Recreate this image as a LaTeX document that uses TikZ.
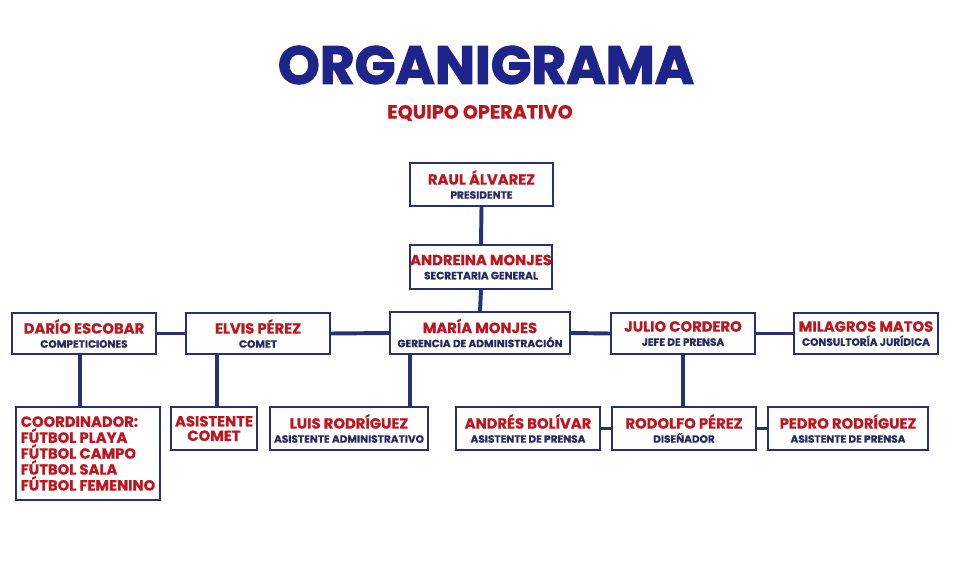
\documentclass[tikz,border=0pt]{standalone}
\usepackage{fontspec}
\setmainfont{Poppins}[BoldFeatures={FakeBold=0.7}]
\newfontfamily\titlefont{Poppins}[BoldFeatures={FakeBold=2.2}]
\usetikzlibrary{positioning}
\definecolor{navy}{RGB}{30,36,138}
\definecolor{boxline}{RGB}{40,48,120}
\definecolor{namered}{RGB}{190,22,30}
\definecolor{rolenavy}{RGB}{38,42,100}
\newcommand{\namefont}{\fontsize{10.5}{10.3}\selectfont\bfseries\color{namered}}
\newcommand{\rolefont}{\fontsize{7.5}{10}\selectfont\bfseries\color{rolenavy}}

\begin{document}
\begin{tikzpicture}[
  x=0.025cm,y=-0.025cm,
  card/.style={rectangle,draw=boxline,line width=1.3pt,fill=white,
               inner sep=0pt,minimum width=3.6cm,minimum height=1.075cm,
               align=center,font=\rolefont},
  link/.style={draw=boxline,line width=2.8pt}
]
\useasboundingbox (0,0) rectangle (959,564);

\node[inner sep=0pt,font=\titlefont\fontsize{38}{40}\selectfont\bfseries,text=navy] (title) at (486,65) {ORGANIGRAMA};
\node[inner sep=0pt,font=\fontsize{13.6}{15}\selectfont\bfseries,text=namered] (subtitle) at (480,113) {EQUIPO OPERATIVO};

\node[card,minimum width=3.575cm] (raul) at (481.5,184.5) {{\namefont RAUL ÁLVAREZ}\\PRESIDENTE};
\node[card,minimum width=3.55cm,minimum height=1.1cm] (andreina) at (481,267) {{\namefont ANDREINA MONJES}\\SECRETARIA GENERAL};
\node[card,minimum width=4.5cm,minimum height=1.05cm] (maria) at (480,333) {{\namefont MARÍA MONJES}\\GERENCIA DE ADMINISTRACIÓN};

\node[card,minimum height=1.025cm] (dario) at (84,333.5) {{\namefont DARÍO ESCOBAR}\\COMPETICIONES};
\node[card,minimum height=1.025cm] (elvis) at (258,333.5) {{\namefont ELVIS PÉREZ}\\COMET};
\node[card,minimum height=1.025cm] (julio) at (683,333.5) {{\namefont JULIO CORDERO}\\JEFE DE PRENSA};
\node[card,minimum height=1.025cm] (milagros) at (866,333.5) {{\namefont MILAGROS MATOS}\\CONSULTORÍA JURÍDICA};

\node[card,minimum height=2.325cm,align=left,font=\namefont] (coord) at (88,453.5)
  {COORDINADOR:\\FÚTBOL PLAYA\\FÚTBOL CAMPO\\FÚTBOL SALA\\FÚTBOL FEMENINO};
\node[card,minimum width=2.15cm,font=\namefont] (asiscomet) at (214,428.5) {ASISTENTE\\COMET};
\node[card,minimum width=3.95cm] (luis) at (349,428.5) {{\namefont LUIS RODRÍGUEZ}\\ASISTENTE ADMINISTRATIVO};
\node[card] (andres) at (528,428.5) {{\namefont ANDRÉS BOLÍVAR}\\ASISTENTE DE PRENSA};
\node[card] (rodolfo) at (684,428.5) {{\namefont RODOLFO PÉREZ}\\DISEÑADOR};
\node[card,minimum width=4cm] (pedro) at (848,428.5) {{\namefont PEDRO RODRÍGUEZ}\\ASISTENTE DE PRENSA};

% lineas de mando
\draw[link] (raul.south) -- (andreina.north);
\draw[link] (andreina.south) -- (maria.north);
\draw[link] (dario.east) -- (elvis.west);
\draw[link] (elvis.east) -- (maria.west);
\draw[link] (maria.east) -- (julio.west);
\draw[link] (julio.east) -- (milagros.west);

\draw[link] ([xshift=-0.1cm]dario.south) coordinate (d1) -- (d1 |- coord.north);
\draw[link] (asiscomet.north) ++(3,0) coordinate (e1) -- (e1 |- elvis.south);
\draw[link] ([xshift=0.525cm]maria.south west) coordinate (m1) -- (m1 |- luis.north);
\draw[link] (julio.south) -- (julio.south |- rodolfo.north);
\draw[link] (andres.east) -- (rodolfo.west);
\draw[link] (rodolfo.east) -- (pedro.west);
\end{tikzpicture}
\end{document}
